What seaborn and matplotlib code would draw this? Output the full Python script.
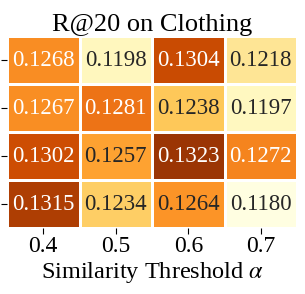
import numpy as np
import matplotlib
matplotlib.use("Agg")
import matplotlib.pyplot as plt
import seaborn as sns

# R@20 values, rows top to bottom, columns by threshold
thresholds = ["0.4", "0.5", "0.6", "0.7"]
row_labels = ["", "", "", ""]
row0 = [0.1268, 0.1198, 0.1304, 0.1218]
row1 = [0.1267, 0.1281, 0.1238, 0.1197]
row2 = [0.1302, 0.1257, 0.1323, 0.1272]
row3 = [0.1315, 0.1234, 0.1264, 0.1180]

values = np.array([row0, row1, row2, row3])

plt.rcParams["font.family"] = ["Liberation Serif", "DejaVu Serif"]
plt.rcParams["mathtext.fontset"] = "stix"

fig = plt.figure(figsize=(3.05, 2.94), dpi=100)
ax = fig.add_axes([0.023, 0.224, 0.951, 0.653])
sns.heatmap(values, ax=ax, cmap="YlOrBr", annot=True, fmt=".4f",
            annot_kws={"size": 16.5}, linewidths=0.8, linecolor="white",
            cbar=False, xticklabels=thresholds, yticklabels=row_labels,
            vmin=0.1178, vmax=0.1345)
ax.set_title("R@20 on Clothing", fontsize=19, pad=4)
ax.set_xlabel(r"Similarity Threshold $\alpha$", fontsize=17.5, labelpad=2)
ax.tick_params(axis="x", labelsize=17, length=4, pad=2)
ax.tick_params(axis="y", length=4)
fig.savefig("out.png", dpi=100)
